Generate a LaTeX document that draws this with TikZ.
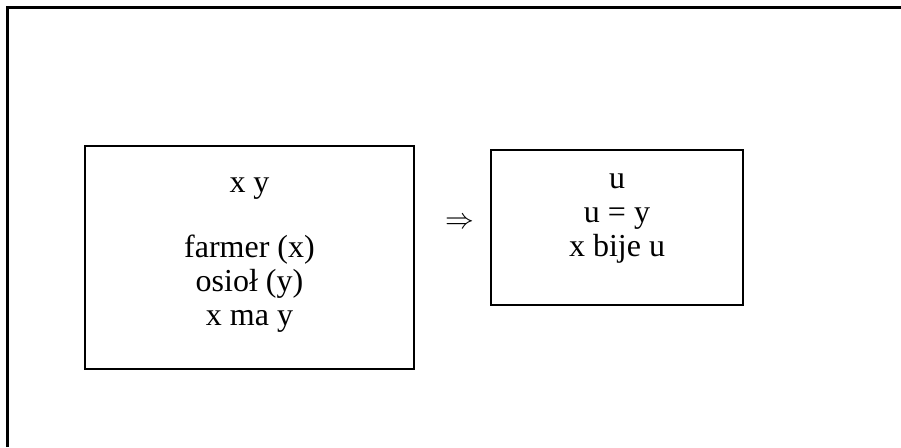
\documentclass[tikz,border=0pt]{standalone}
\usepackage{fontspec}
\setmainfont{Liberation Serif}
\usetikzlibrary{positioning}

\begin{document}
\begin{tikzpicture}[
  x=0.5pt, y=-0.5pt,
  font=\fontsize{16}{17}\selectfont,
  frameline/.style={line width=1.5pt},
  drs/.style={draw, line width=1pt, inner sep=0pt, fill=white},
  drstext/.style={align=center, inner sep=0pt, anchor=base}
]
\useasboundingbox (0,0) rectangle (901,447);

%% cropped outer frame
\draw[frameline] (7,447) -- (7,7) -- (901,7);

\node[drs, minimum width=164.5pt, minimum height=111.5pt] (ante) at (249.5,257.5) {};
\node[drs, minimum width=126pt, minimum height=77.5pt]   (cons) at (617,227.5) {};

%% base anchor = baseline of last line
\node[drstext] (antetxt) at (249.5,325)
  {x y\\[15.5pt]farmer (x)\\osioł (y)\\x ma y};
\node[drstext] (constxt) at (617,256.7)
  {u\\u = y\\x bije u};

\node[inner sep=0pt, font=\fontsize{14.5}{17}\selectfont] (impl) at (460,223) {$\Rightarrow$};

\end{tikzpicture}
\end{document}
